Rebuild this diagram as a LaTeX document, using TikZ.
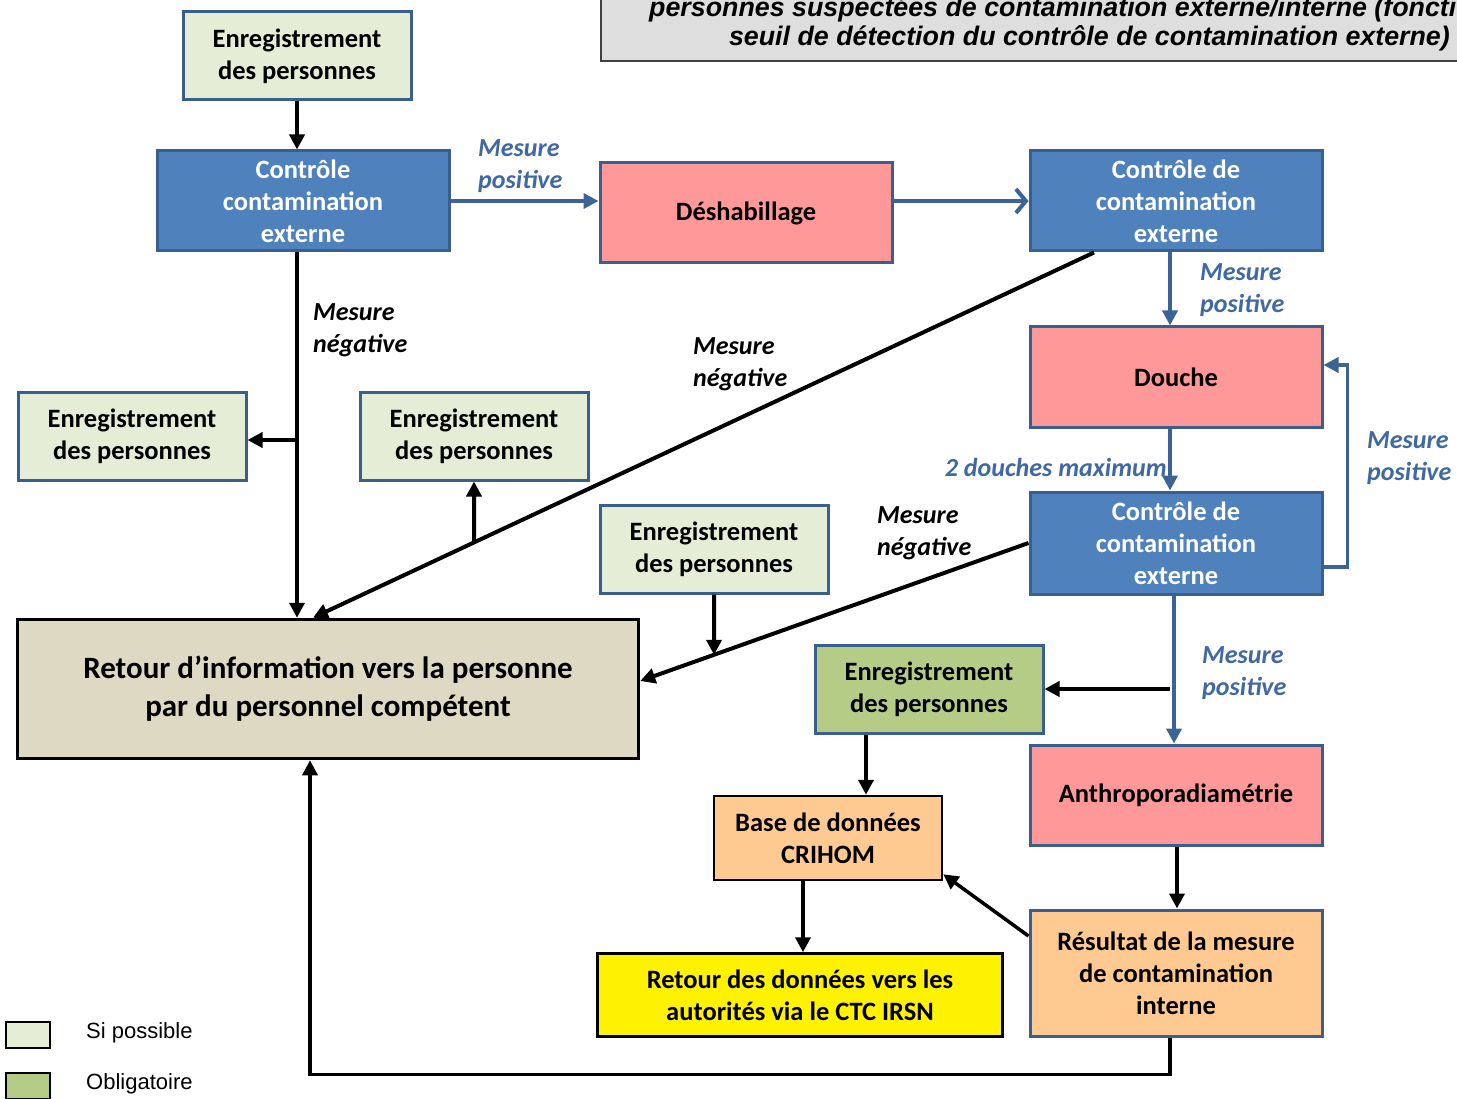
\documentclass[tikz,border=0pt]{standalone}
\usepackage{fontspec}
\setmainfont{Carlito}
\newfontfamily\arialfont{Liberation Sans}
\usetikzlibrary{arrows.meta,calc}

\definecolor{bordblue}{HTML}{3A5F8E}
\definecolor{boxblue}{HTML}{4F81BD}
\definecolor{palegreen}{HTML}{E5EDD7}
\definecolor{midgreen}{HTML}{B5CC87}
\definecolor{pinkbox}{HTML}{FF9999}
\definecolor{beige}{HTML}{DDD9C3}
\definecolor{peach}{HTML}{FFC992}
\definecolor{flowblue}{HTML}{3C6396}
\definecolor{lblblue}{HTML}{4068A2}
\definecolor{headgray}{HTML}{DEDEDE}
\definecolor{headline}{HTML}{404040}

\begin{document}
\begin{tikzpicture}[x=1pt,y=-1pt,
  txt/.style={font=\bfseries\fontsize{26.5}{32}\selectfont},
  box/.style={txt, draw=bordblue, line width=3pt, inner sep=0pt, align=center},
  possible/.style={box, fill=palegreen, minimum width=228pt, minimum height=88pt},
  mandatory/.style={box, fill=midgreen, minimum width=228pt, minimum height=88pt},
  control/.style={box, fill=boxblue, text=white, minimum width=292pt, minimum height=100pt},
  action/.style={box, fill=pinkbox, minimum width=292pt, minimum height=100pt},
  result/.style={box, fill=peach},
  blackbox/.style={box, draw=black},
  lbl/.style={font=\bfseries\itshape\fontsize{26}{32}\selectfont, align=left, inner sep=0pt, anchor=west},
  poslbl/.style={lbl, text=lblblue},
  tipb/.style={-{Triangle[length=15pt,width=15pt]}},
  blackflow/.style={draw=black, line width=4pt, tipb},
  blueflow/.style={draw=flowblue, line width=4pt, tipb},
  blueopen/.style={draw=flowblue, line width=4pt, -{Straight Barb[length=10pt,width=24pt,line width=4pt]}},
  legendbox/.style={draw=black, line width=1.2pt, minimum width=44pt, minimum height=26pt, inner sep=0pt},
  legendtxt/.style={font=\arialfont\fontsize{22}{26}\selectfont, anchor=west, inner sep=0pt},
  headtxt/.style={font=\arialfont\bfseries\itshape\fontsize{26.8}{30}\selectfont, inner sep=0pt}
]
\useasboundingbox (0,0) rectangle (1457,1099);
\clip (0,0) rectangle (1457,1099);

% heading box, running past the page edge
\node[draw=headline, fill=headgray, line width=2pt, minimum width=900pt, minimum height=120pt, inner sep=0pt] (hdr) at (1051,1) {};
\node[headtxt, anchor=base west] (hdr1) at (649,17) {personnes suspectées de contamination externe/interne (fonction du};
\node[headtxt, anchor=base east] (hdr2) at (1450,46) {seuil de détection du contrôle de contamination externe)};

% boxes
\node[possible] (e1) at (297,56) {Enregistrement\\des personnes};
\node[control] (c1) at (303,201) {Contrôle\\contamination\\externe};
\node[action] (desh) at (746,213) {Déshabillage};
\node[control] (c2) at (1176,201) {Contrôle de\\contamination\\externe};
\node[action] (douche) at (1176,377) {Douche};
\node[control, minimum height=102pt] (c3) at (1176,543) {Contrôle de\\contamination\\externe};
\node[action] (anthro) at (1176,795) {Anthroporadiamétrie};
\node[result, minimum width=292pt, minimum height=126pt] (res) at (1176,973) {Résultat de la mesure\\de contamination\\interne};
\node[possible] (e2) at (132,436) {Enregistrement\\des personnes};
\node[possible] (e3) at (474,436) {Enregistrement\\des personnes};
\node[possible] (e4) at (714,549) {Enregistrement\\des personnes};
\node[mandatory] (e5) at (929,689) {Enregistrement\\des personnes};
\node[result, blackbox, fill=peach, line width=2.5pt, minimum width=228pt, minimum height=84pt] (base) at (828,838) {Base de données\\CRIHOM};
\node[blackbox, fill=yellow, line width=2.5pt, minimum width=405pt, minimum height=83pt] (autor) at (800,995) {Retour des données vers les\\autorités via le CTC IRSN};
\node[blackbox, fill=beige, line width=3.5pt, minimum width=621pt, minimum height=139pt, font=\bfseries\fontsize{31}{38}\selectfont] (info) at (328,689) {Retour d’information vers la personne\\par du personnel compétent};

% blue flow
\draw[blueflow] (c1.east) -- (desh.west |- c1.east);
\draw[blueopen] (desh.east |- c2.west) -- (c2.west);
\draw[blueflow] ([xshift=-6pt]c2.south) -- ([xshift=-6pt]douche.north);
\draw[blueflow] ([xshift=-6pt]douche.south) -- ([xshift=-6pt]c3.north);
\draw[blueflow, line width=3.5pt] ([yshift=-24pt]c3.east) -- ++(24,0) |- ([yshift=12pt]douche.east);
\draw[blueflow] ([xshift=-2pt]c3.south) -- ([xshift=-2pt]anthro.north);

\node[poslbl] (l1) at (478,166) {Mesure\\positive};
\node[poslbl] (l2) at (1200,290) {Mesure\\positive};
\node[poslbl, anchor=east] (l3) at (1167,467) {2 douches maximum};
\node[poslbl] (l4) at (1367,458) {Mesure\\positive};
\node[poslbl] (l5) at (1202,673) {Mesure\\positive};

% black flow
\draw[blackflow] (e1.south) -- (e1.south |- c1.north);
\coordinate (c1s) at ([xshift=-6pt]c1.south);
\draw[blackflow] (c1s) -- (c1s |- info.north);
\path ([yshift=-4pt]e2.east) coordinate (e2a);
\draw[blackflow] (e2a -| c1s) -- (e2a);

\coordinate (c2s) at ([xshift=-82pt]c2.south);
\coordinate (infoa) at ([xshift=-15pt]info.north);
\draw[blackflow] (c2s) -- (infoa);
\coordinate (b3) at (intersection of c2s--infoa and e3.south--e3.north);
\draw[blackflow] (b3) -- (e3.south);

\coordinate (infob) at ([yshift=8pt]info.east);
\draw[blackflow] (c3.west) -- (infob);
\coordinate (b4) at (intersection of c3.west--infob and e4.south--e4.north);
\draw[blackflow] (e4.south) -- (b4);

\draw[blackflow] ([xshift=-6pt]c3.south |- e5.east) -- (e5.east);
\coordinate (e5s) at ([xshift=-63pt]e5.south);
\draw[blackflow] (e5s) -- (e5s |- base.north);
\coordinate (bs) at ([xshift=-25pt]base.south);
\draw[blackflow] (bs) -- (bs |- autor.north);
\draw[blackflow] ([xshift=1pt]anthro.south) -- ([xshift=1pt]res.north);
\draw[blackflow, line width=3.5pt] ([yshift=37pt]res.west) -- ([yshift=7pt]base.south east);
\coordinate (rs) at ([xshift=-6pt]res.south);
\coordinate (it) at ([xshift=-18pt]info.south);
\draw[blackflow, line width=3.5pt] (rs) -- ++(0,37) -| (it);

\node[lbl] (n1) at (313,330) {Mesure\\négative};
\node[lbl] (n2) at (693,364) {Mesure\\négative};
\node[lbl] (n3) at (877,533) {Mesure\\négative};

% legend
\node[legendbox, fill=palegreen] (leg1) at (28,1035) {};
\node[legendtxt] (leg1t) at (86,1033) {Si possible};
\node[legendbox, fill=midgreen] (leg2) at (28,1086) {};
\node[legendtxt] (leg2t) at (86,1084) {Obligatoire};
\end{tikzpicture}
\end{document}
